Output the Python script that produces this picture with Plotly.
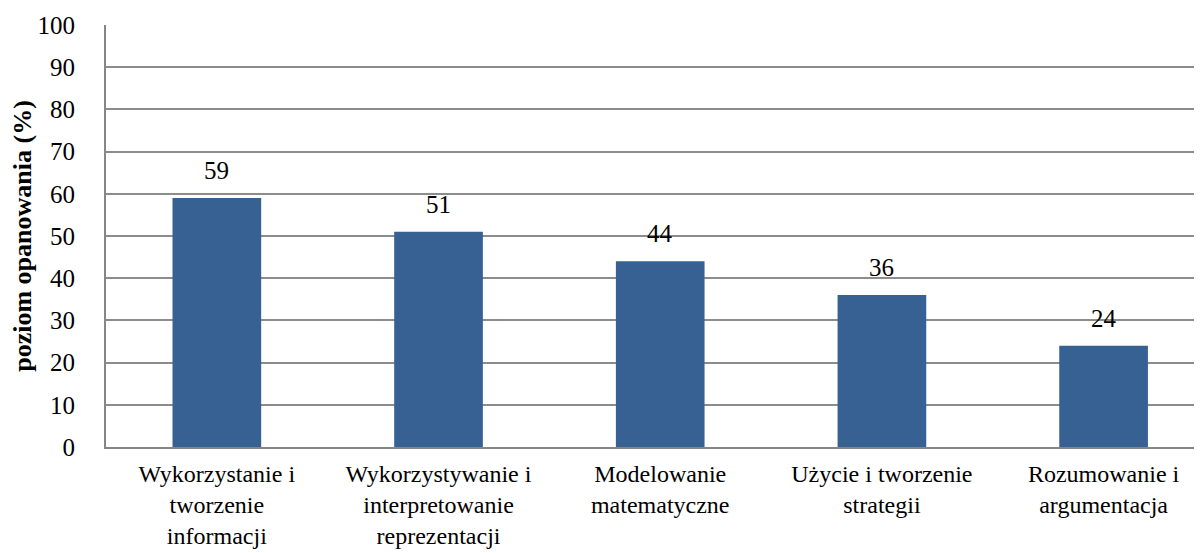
import plotly.graph_objects as go

categories = ["Wykorzystanie i<br>tworzenie<br>informacji",
              "Wykorzystywanie i<br>interpretowanie<br>reprezentacji",
              "Modelowanie<br>matematyczne",
              "Użycie i tworzenie<br>strategii",
              "Rozumowanie i<br>argumentacja"]
values = [59, 51, 44, 36, 24]
y_ticks = [0, 10, 20, 30, 40, 50, 60, 70, 80, 90, 100]

font_family = "Liberation Serif, Times New Roman, serif"
xs = list(range(len(categories)))

fig = go.Figure(go.Bar(
    x=xs,
    y=values,
    width=0.4,
    marker=dict(color="#386193", line=dict(width=0)),
    hoverinfo="skip",
))

for x, v in zip(xs, values):
    fig.add_annotation(x=x, y=v, text=str(v), showarrow=False,
                       xanchor="center", yanchor="bottom", yshift=12,
                       font=dict(family=font_family, size=25, color="black"))

fig.update_layout(
    width=1202, height=553,
    margin=dict(l=98, r=0, t=17, b=114),
    plot_bgcolor="white", paper_bgcolor="white",
    showlegend=False,
    font=dict(family=font_family, size=25, color="black"),
    xaxis=dict(
        tickmode="array",
        tickvals=xs,
        ticktext=categories,
        range=[-0.5, 4.48],
        showgrid=False,
        showline=True, linecolor="#868686", linewidth=2,
        ticks="", ticklabelstandoff=4,
        tickfont=dict(size=24),
        zeroline=False,
    ),
    yaxis=dict(
        range=[0, 100],
        tickvals=y_ticks,
        showgrid=True, gridcolor="#8c8c8c", gridwidth=2,
        showline=True, linecolor="#868686", linewidth=2,
        ticks="", ticklabelstandoff=24,
        tickfont=dict(size=25),
        zeroline=False,
        title=dict(text="<b>poziom opanowania (%)</b>", font=dict(size=26), standoff=8),
    ),
)

fig.write_html("out.html")
